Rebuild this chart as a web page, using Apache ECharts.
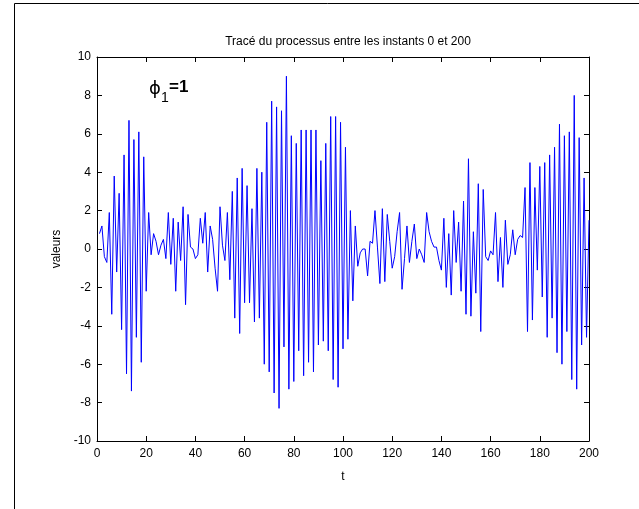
<!DOCTYPE html>
<html>
<head>
<meta charset="utf-8">
<script src="https://cdn.jsdelivr.net/npm/echarts@6/dist/echarts.min.js"></script>
<style>
html,body{margin:0;padding:0;background:#fff;}
#c{width:639px;height:509px;}
</style>
</head>
<body>
<div id="c"></div>
<script>
var titleText = "Tracé du processus entre les instants 0 et 200";
var xLabel = "t";
var yLabel = "valeurs";
var xTicks = [0, 20, 40, 60, 80, 100, 120, 140, 160, 180, 200];
var yTicks = [-10, -8, -6, -4, -2, 0, 2, 4, 6, 8, 10];
var tStart = 1;
var values = [
  0.8, 1.2, -0.4, -0.7, 1.9, -3.4, 3.8, -1.2, 2.9, -4.2,
  4.9, -6.5, 6.7, -7.4, 5.7, -4.6, 6.1, -5.9, 4.8, -2.2,
  1.9, -0.3, 0.8, 0.4, -0.3, 0.2, 0.5, -0.5, 1.9, -0.8,
  1.6, -2.2, 1.4, -0.6, 2.2, -2.9, 1.8, 0.1, 0.0, -0.5,
  -0.3, 1.6, 0.3, 1.9, -1.2, 1.2, 0.5, -1.0, -2.2, 2.2,
  0.2, -0.6, 1.9, -1.6, 3.0, -3.6, 3.7, -4.4, 4.2, -2.8,
  3.3, -2.8, 2.1, -3.8, 4.2, -3.6, 4.0, -6.0, 6.6, -6.4,
  7.7, -7.5, 7.4, -8.3, 7.2, -5.1, 9.0, -7.3, 5.9, -6.9,
  5.5, -5.3, 6.2, -6.6, 6.2, -5.9, 6.2, -6.4, 6.2, -5.0,
  4.6, -4.8, 5.5, -5.3, 6.9, -6.8, 6.9, -7.2, 6.6, -5.2,
  5.3, -4.7, 2.0, -2.7, 1.2, -0.9, -0.2, 0.0, 0.0, -1.4,
  0.4, 0.3, 2.0, 0.1, -1.8, 2.1, -1.7, 1.8, 0.4, -1.0,
  -0.4, 0.9, 1.9, -2.1, -0.5, 1.2, -0.7, 0.4, 1.3, -0.5,
  0.0, -0.3, -0.7, 1.9, 0.9, 0.4, 0.1, 0.1, -0.6, -1.1,
  1.6, -2.0, 0.8, -2.4, 2.0, -0.7, 1.4, -2.2, 2.5, -3.4,
  4.7, -3.5, 0.9, -2.3, 3.4, -4.3, 3.1, -0.4, -0.6, -0.1,
  -0.3, 1.9, -1.7, 0.6, -2.0, 1.5, -0.8, -0.3, 1.0, -0.3,
  0.5, 0.7, 0.6, 3.2, -4.3, 4.5, -3.7, 3.2, -1.1, 4.3,
  -2.5, 4.5, -4.6, 4.9, -3.6, 5.3, -5.4, 6.5, -6.0, 5.9,
  -4.3, 6.1, -6.8, 8.0, -7.3, 5.8, -5.0, 3.7, -4.6, 1.5
];

var seriesData = values.map(function (v, i) { return [tStart + i, v]; });

var FONT = "Liberation Sans";
var chart = echarts.init(document.getElementById('c'), null, {renderer: 'canvas'});

function mkAxisCommon(show) {
  return {
    axisLine: {show: true, onZero: false, lineStyle: {color: '#000', width: 1}},
    axisTick: {show: true, inside: true, length: 5, lineStyle: {color: '#000', width: 1}},
    splitLine: {show: false},
    axisLabel: {show: show, color: '#000', fontFamily: FONT, fontSize: 12}
  };
}

var option = {
  backgroundColor: '#fff',
  animation: false,
  title: {
    text: titleText,
    left: 343, top: 31, textAlign: 'center',
    textStyle: {fontFamily: FONT, fontSize: 12, fontWeight: 'normal', color: '#000'}
  },
  grid: {left: 97, right: 50, top: 57, bottom: 68},
  xAxis: [
    Object.assign(mkAxisCommon(true), {
      type: 'value', min: xTicks[0], max: xTicks[xTicks.length - 1], interval: 20,
      position: 'bottom',
      name: xLabel, nameLocation: 'middle', nameGap: 30,
      nameTextStyle: {fontFamily: FONT, fontSize: 12, color: '#000'},
      axisLabel: {show: true, color: '#000', fontFamily: FONT, fontSize: 12, margin: 7}
    }),
    Object.assign(mkAxisCommon(false), {
      type: 'value', min: xTicks[0], max: xTicks[xTicks.length - 1], interval: 20,
      position: 'top'
    })
  ],
  yAxis: [
    Object.assign(mkAxisCommon(true), {
      type: 'value', min: yTicks[0], max: yTicks[yTicks.length - 1], interval: 2,
      position: 'left',
      name: yLabel, nameLocation: 'middle', nameGap: 27, nameRotate: 90,
      nameTextStyle: {fontFamily: FONT, fontSize: 12, color: '#000'},
      axisLabel: {show: true, color: '#000', fontFamily: FONT, fontSize: 12, margin: 6}
    }),
    Object.assign(mkAxisCommon(false), {
      type: 'value', min: yTicks[0], max: yTicks[yTicks.length - 1], interval: 2,
      position: 'right'
    })
  ],
  series: [{
    type: 'line',
    xAxisIndex: 0, yAxisIndex: 0,
    data: seriesData,
    showSymbol: false,
    symbol: 'none',
    lineStyle: {color: '#0000ff', width: 1},
    silent: true
  }],
  graphic: [
    {
      type: 'text', left: 149, top: 80,
      style: {text: 'ϕ', fontFamily: 'DejaVu Sans', fontSize: 18, fill: '#000'}
    },
    {
      type: 'text', left: 161, top: 91,
      style: {text: '1', fontFamily: FONT, fontSize: 14, fill: '#000'}
    },
    {
      type: 'text', left: 169, top: 79,
      style: {text: '=1', fontFamily: FONT, fontSize: 17, fontWeight: 'bold', fill: '#000'}
    },
    {
      type: 'polyline',
      shape: {points: [[14.5, 520], [14.5, 3.5], [650, 3.5]]},
      style: {stroke: '#000', lineWidth: 1, fill: null},
      silent: true
    }
  ]
};
chart.setOption(option);
</script>
</body>
</html>
